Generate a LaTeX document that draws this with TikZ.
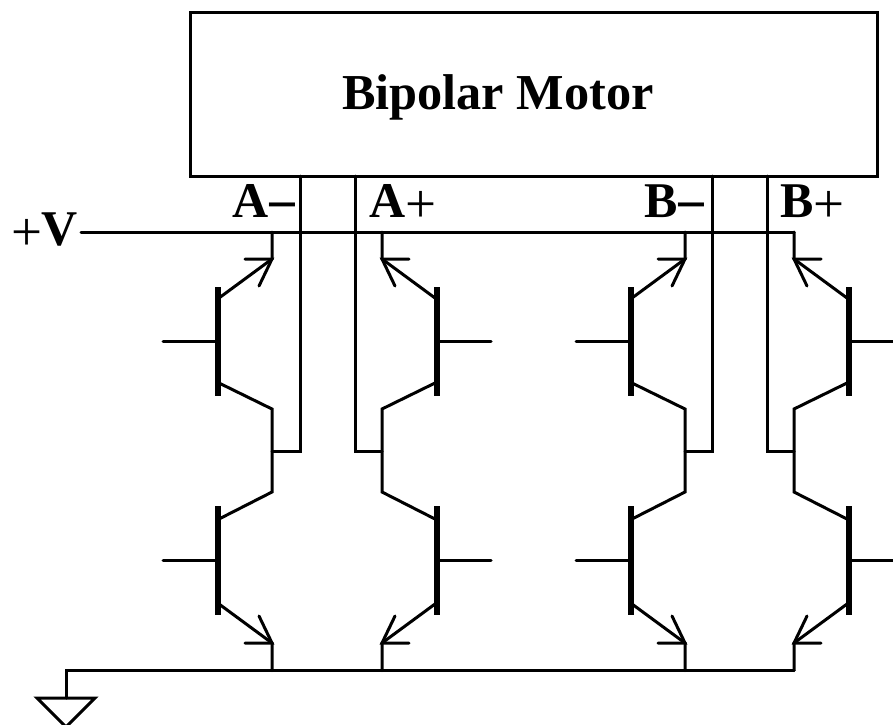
\documentclass[tikz,border=0pt]{standalone}
\usepackage{fontspec}
\setmainfont{Liberation Serif}
\newcommand{\plusglyph}{\raisebox{-5pt}{\fontsize{55}{50}\selectfont +}}
\newcommand{\dashglyph}{\kern-1.5pt\raisebox{-6pt}{\fontsize{56}{50}\selectfont\bfseries −}}
\tikzset{
  wire/.style={line width=3pt,line cap=round,line join=miter},
  bar/.style={line width=6pt,line cap=butt},
  lbl/.style={anchor=base west,inner sep=0pt,outer sep=0pt,font=\fontsize{50}{50}\selectfont},
  motor/.style={draw,line width=3pt,minimum width=687pt,minimum height=164pt,anchor=north west,inner sep=0pt,outer sep=0pt}
}
% #1 name, #2 rail x, #3 direction (1: transistor left of rail, -1: right of rail)
\newcommand{\halfbridge}[3]{%
  \begin{scope}[shift={(#2,0)},xscale=#3]
    \coordinate (#1top) at (0,232);
    \coordinate (#1mid) at (0,451);
    \coordinate (#1bot) at (0,670.5);
    % upper transistor
    \draw[bar] (-54.5,287) -- (-54.5,396);
    \draw[wire] (-109,341) -- (-54.5,341);
    \draw[wire] (#1top) -- (0,259) -- (-53,298);
    \draw[wire] (-27,259) -- (0,259) -- (-13,286);
    \draw[wire] (-53,383) -- (0,409) -- (0,492) -- (-53,519);
    % lower transistor
    \draw[bar] (-54.5,506) -- (-54.5,615);
    \draw[wire] (-109,560.5) -- (-54.5,560.5);
    \draw[wire] (-53,604) -- (0,643) -- (#1bot);
    \draw[wire] (-27,643) -- (0,643) -- (-13,616);
  \end{scope}}
\begin{document}
\begin{tikzpicture}[x=1pt,y=-1pt]
  \useasboundingbox (0,0) rectangle (893,724);
  \clip (0,0) rectangle (893,724);
  \node[motor] (M) at (190,12) {};
  \node[lbl,font=\fontsize{50.3}{50}\selectfont\bfseries] (Mtext) at (342,109) {Bipolar Motor};
  \halfbridge{am}{272}{1}
  \halfbridge{ap}{382}{-1}
  \halfbridge{bm}{685}{1}
  \halfbridge{bp}{794}{-1}
  \node[lbl] (vlabel) at (11,245) {\plusglyph\kern-1pt\textbf{V}};
  \node[lbl] (alabelm) at (232,217.5) {\textbf{A}\dashglyph};
  \node[lbl] (alabelp) at (369,217.5) {\textbf{A}\plusglyph};
  \node[lbl] (blabelm) at (644,217.5) {\textbf{B}\dashglyph};
  \node[lbl] (blabelp) at (780,217.5) {\textbf{B}\plusglyph};
  \coordinate (vstart) at (81,232);
  \coordinate (gnd) at (66,698);
  \draw[wire] (vstart) -- (bptop);
  \draw[wire] (gnd) -- (66,670.5) -- (bpbot);
  \draw[wire] (37,698) -- (95,698) -- (66,727) -- cycle;
  \coordinate (m1) at (300,176);
  \coordinate (m2) at (355,176);
  \coordinate (m3) at (712,176);
  \coordinate (m4) at (767,176);
  \draw[wire] (m1) -- (300,451) -- (ammid);
  \draw[wire] (m2) -- (355,451) -- (apmid);
  \draw[wire] (m3) -- (712,451) -- (bmmid);
  \draw[wire] (m4) -- (767,451) -- (bpmid);
\end{tikzpicture}
\end{document}
